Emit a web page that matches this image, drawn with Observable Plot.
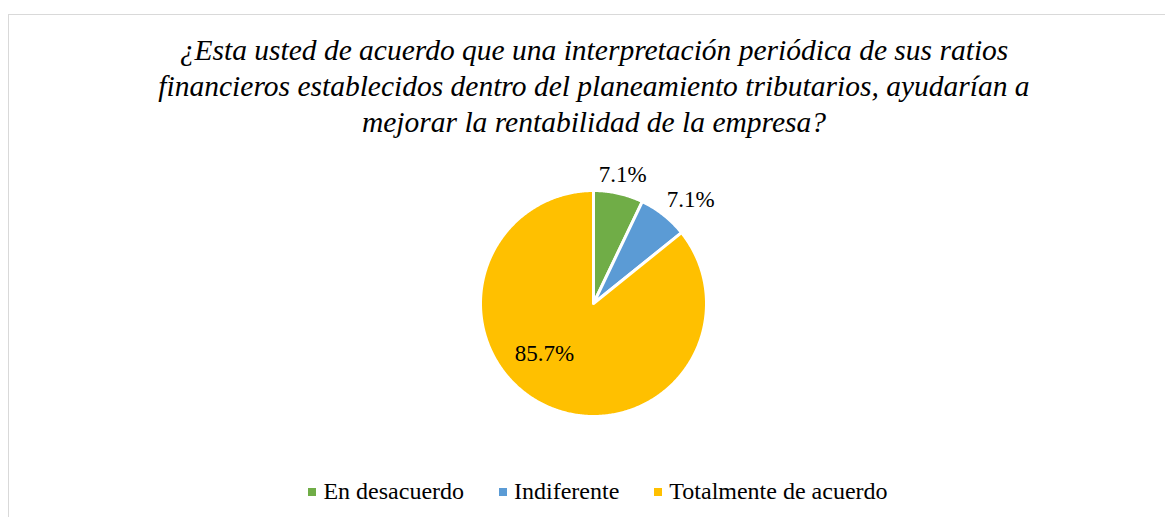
<!DOCTYPE html>
<html>
<head>
<meta charset="utf-8">
<script src="https://cdn.jsdelivr.net/npm/d3@7"></script>
<script src="https://cdn.jsdelivr.net/npm/@observablehq/plot@0.6"></script>
<style>
  html, body { margin: 0; padding: 0; background: #fff; overflow: hidden; }
  #wrap { position: relative; width: 1165px; height: 517px; font-family: 'Liberation Serif', 'Times New Roman', serif; }
  #frame { position: absolute; left: 8px; top: 14px; width: 1200px; height: 600px; border: 1px solid #d9d9d9; box-sizing: border-box; }
  #title { position: absolute; left: 0; width: 1188px; top: 32px; text-align: center; font-style: italic; font-size: 29.5px; line-height: 36px; color: #000; white-space: nowrap; }
  #chart { position: absolute; left: 0; top: 150px; }
  #legend { position: absolute; left: 3px; width: 1190px; top: 476px; text-align: center; font-size: 24px; line-height: 30px; color: #000; white-space: nowrap; }
  .item { display: inline-block; margin: 0 17.5px; }
  .sw { display: inline-block; width: 8px; height: 8px; margin-right: 7px; vertical-align: 3px; }
</style>
</head>
<body>
<div id="wrap">
  <div id="frame"></div>
  <div id="title"></div>
  <div id="chart"></div>
  <div id="legend"></div>
</div>
<script>
const titleLines = [
  "¿Esta usted de acuerdo que una interpretación periódica de sus ratios",
  "financieros establecidos dentro del planeamiento tributarios, ayudarían a",
  "mejorar la rentabilidad de la empresa?"
];
const categories = ["En desacuerdo", "Indiferente", "Totalmente de acuerdo"];
const values = [7.1, 7.1, 85.7];
const labels = ["7.1%", "7.1%", "85.7%"];
const colors = ["#70AD47", "#5B9BD5", "#FFC000"];

document.getElementById("title").innerHTML = titleLines.join("<br>");

// geometry (in radius units)
const W = 1165, H = 300, R = 113, cx = 593, cy = 153;
const total = d3.sum(values);
const arcs = d3.pie().sort(null).value(d => d)(values);

const slices = [];
arcs.forEach((a, i) => {
  slices.push({cat: categories[i], x: 0, y: 0});
  const n = Math.max(2, Math.ceil((a.endAngle - a.startAngle) / 0.01));
  for (let k = 0; k <= n; k++) {
    const t = a.startAngle + (a.endAngle - a.startAngle) * k / n;
    slices.push({cat: categories[i], x: Math.sin(t), y: Math.cos(t)});
  }
  slices.push({cat: categories[i], x: 0, y: 0});
});

// label placement derived from slice mid-angles
const labelRows = arcs.map((a, i) => {
  const mid = (a.startAngle + a.endAngle) / 2;
  const inside = values[i] / total > 0.5;
  const r = inside ? 0.62 : 1.17;
  const ang = inside ? mid + 0.33 : mid;
  return {label: labels[i], x: r * Math.sin(ang), y: r * Math.cos(ang), shift: i === 1};
});

const plot = Plot.plot({
  width: W, height: H,
  margin: 0,
  x: {domain: [-cx / R, (W - cx) / R], axis: null},
  y: {domain: [-(H - cy) / R, cy / R], axis: null},
  color: {domain: categories, range: colors},
  marks: [
    Plot.line(slices, {x: "x", y: "y", z: "cat", fill: "cat", stroke: "white", strokeWidth: 3, strokeLinejoin: "round", curve: "linear"}),
    Plot.text(labelRows.filter(d => !d.shift), {x: "x", y: "y", text: "label", fontSize: 23, fill: "#000", fontFamily: "Liberation Serif"}),
    Plot.text(labelRows.filter(d => d.shift), {x: "x", y: "y", text: "label", dx: 15, fontSize: 23, fill: "#000", fontFamily: "Liberation Serif"})
  ]
});
document.getElementById("chart").appendChild(plot);

const leg = document.getElementById("legend");
categories.forEach((c, i) => {
  const s = document.createElement("span");
  s.className = "item";
  s.innerHTML = `<span class="sw" style="background:${colors[i]}"></span>${c}`;
  leg.appendChild(s);
});
</script>
</body>
</html>
